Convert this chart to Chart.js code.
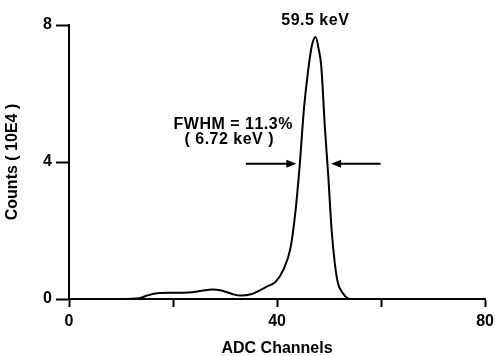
<!DOCTYPE html>
<html>
<head>
    <script src="https://cdn.jsdelivr.net/npm/chart.js@4.4.0/dist/chart.umd.min.js"></script>
    <style>
        body { margin: 0; padding: 0; background: #fff; }
        .chart-container { width: 499px; height: 356px; }
    </style>
</head>
<body>
    <div class="chart-container">
        <canvas id="spectrumChart"></canvas>
    </div>

    <script>
        // ADC channel vs counts (units of 10E4)
        const channels = [0, 10, 13.5, 15, 17, 20, 23, 25.5, 27.5, 29.5, 31.5, 33, 35, 36.5, 38, 39.7, 41.2, 42.6, 43.5, 44.3, 45.2, 46.0, 46.7, 47.4, 48.0, 48.5, 49.2, 49.8, 50.5, 51.1, 51.7, 52.6, 54, 60, 80];
        const counts   = [0, 0, 0.02, 0.1, 0.17, 0.18, 0.19, 0.24, 0.28, 0.24, 0.14, 0.1, 0.14, 0.24, 0.36, 0.5, 0.85, 1.5, 2.5, 3.8, 5.6, 6.7, 7.4, 7.65, 7.3, 6.8, 5.0, 3.7, 2.0, 1.05, 0.47, 0.18, 0, 0, 0];
        const xTicks = [0, 20, 40, 60, 80];
        const xTickLabels = ['0', '', '40', '', '80'];
        const yTicks = [0, 4, 8];

        const FONT = '"Liberation Sans", Arial, Helvetica, sans-serif';

        // peak label, FWHM text and the two arrows, placed in data units
        const annotations = {
            id: 'annotations',
            afterDatasetsDraw(chart) {
                const ctx = chart.ctx;
                const xs = chart.scales.x, ys = chart.scales.y;
                const px = v => xs.getPixelForValue(v);
                const py = v => ys.getPixelForValue(v);
                ctx.save();
                ctx.fillStyle = '#000';
                ctx.strokeStyle = '#000';
                ctx.font = 'bold 16px ' + FONT;
                ctx.textBaseline = 'middle';
                ctx.textAlign = 'left';

                // draw char by char with a little extra tracking
                function label(text, x, y, centered) {
                    const gap = 0.5;
                    const chars = [...text];
                    const total = chars.reduce((w, c) => w + ctx.measureText(c).width + gap, -gap);
                    let cx = px(x) - (centered ? total / 2 : 0);
                    chars.forEach(c => {
                        ctx.fillText(c, cx, py(y));
                        cx += ctx.measureText(c).width + gap;
                    });
                }
                label('59.5 keV', 47.3, 8.12, true);
                label('FWHM = 11.3%', 20.1, 5.08, false);
                label('( 6.72 keV )', 22.2, 4.66, false);

                function arrow(fromX, toX, y) {
                    const x1 = px(fromX), x2 = px(toX), yy = py(y);
                    const dir = Math.sign(x2 - x1);
                    ctx.lineWidth = 2;
                    ctx.beginPath();
                    ctx.moveTo(x1, yy);
                    ctx.lineTo(x2 - dir * 8, yy);
                    ctx.stroke();
                    ctx.beginPath();
                    ctx.moveTo(x2, yy);
                    ctx.lineTo(x2 - dir * 10, yy - 4);
                    ctx.lineTo(x2 - dir * 10, yy + 4);
                    ctx.closePath();
                    ctx.fill();
                }
                arrow(34.0, 43.7, 3.95);
                arrow(59.9, 50.4, 3.95);
                ctx.restore();
            }
        };

        new Chart(document.getElementById('spectrumChart'), {
            type: 'line',
            data: {
                datasets: [{
                    data: channels.map((c, i) => ({ x: c, y: counts[i] })),
                    borderColor: '#000',
                    borderWidth: 2,
                    pointRadius: 0,
                    fill: false,
                    cubicInterpolationMode: 'monotone'
                }]
            },
            options: {
                responsive: true,
                maintainAspectRatio: false,
                animation: false,
                layout: { padding: { top: 25, right: 10, left: 0, bottom: 0 } },
                plugins: {
                    legend: { display: false },
                    tooltip: { enabled: false }
                },
                scales: {
                    x: {
                        type: 'linear',
                        min: 0,
                        max: 80,
                        afterBuildTicks: s => { s.ticks = xTicks.map(v => ({ value: v })); },
                        afterFit: s => { s.height = 57; },
                        ticks: {
                            color: '#000',
                            padding: 5,
                            maxRotation: 0,
                            autoSkip: false,
                            font: { family: FONT, size: 16, weight: 'bold' },
                            callback: (v) => xTickLabels[xTicks.indexOf(v)]
                        },
                        grid: { drawOnChartArea: false, drawTicks: true, tickLength: 8, tickColor: '#000', tickWidth: 2 },
                        border: { display: true, color: '#000', width: 2 },
                        title: {
                            display: true,
                            text: 'ADC Channels',
                            color: '#000',
                            padding: { top: 0, bottom: -2 },
                            font: { family: FONT, size: 16, weight: 'bold' }
                        }
                    },
                    y: {
                        min: 0,
                        max: 8,
                        afterBuildTicks: s => { s.ticks = yTicks.map(v => ({ value: v })); },
                        afterFit: s => { s.width = 69; },
                        ticks: {
                            color: '#000',
                            padding: 4,
                            font: { family: FONT, size: 16, weight: 'bold' }
                        },
                        grid: { drawOnChartArea: false, drawTicks: true, tickLength: 13, tickColor: '#000', tickWidth: 2 },
                        border: { display: true, color: '#000', width: 2 },
                        title: {
                            display: true,
                            text: 'Counts ( 10E4 )',
                            color: '#000',
                            padding: { top: 3, bottom: 0 },
                            font: { family: FONT, size: 16, weight: 'bold' }
                        }
                    }
                }
            },
            plugins: [annotations]
        });
    </script>
</body>
</html>
